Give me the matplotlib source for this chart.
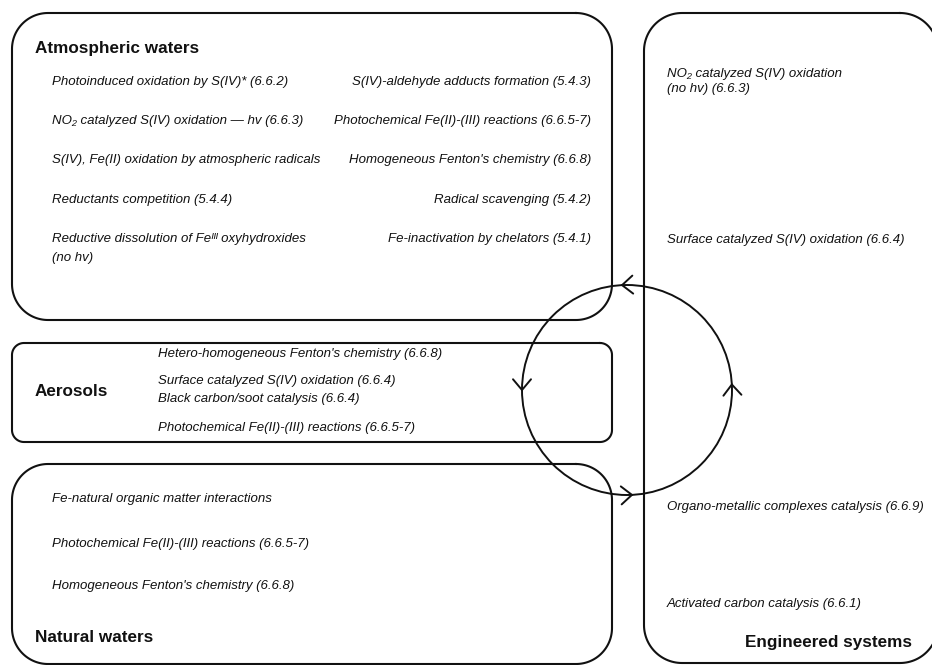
import numpy as np
import matplotlib
matplotlib.use('Agg')
import matplotlib.pyplot as plt
from matplotlib.patches import Circle

plt.rcParams['font.family'] = ['Liberation Sans', 'DejaVu Sans']

# --- diagram content ---
box_titles = ['Atmospheric waters', 'Aerosols', 'Natural waters', 'Engineered systems']

atmos_left = [
    'Photoinduced oxidation by S(IV)* (6.6.2)',
    'NO₂ catalyzed S(IV) oxidation — hv (6.6.3)',
    'S(IV), Fe(II) oxidation by atmospheric radicals',
    'Reductants competition (5.4.4)',
    'Reductive dissolution of Feᴵᴵᴵ oxyhydroxides\n(no hv)',
]
atmos_right = [
    'S(IV)-aldehyde adducts formation (5.4.3)',
    'Photochemical Fe(II)-(III) reactions (6.6.5-7)',
    "Homogeneous Fenton's chemistry (6.6.8)",
    'Radical scavenging (5.4.2)',
    'Fe-inactivation by chelators (5.4.1)',
]
aerosol_items = [
    "Hetero-homogeneous Fenton's chemistry (6.6.8)",
    'Surface catalyzed S(IV) oxidation (6.6.4)',
    'Black carbon/soot catalysis (6.6.4)',
    'Photochemical Fe(II)-(III) reactions (6.6.5-7)',
]
natural_items = [
    'Fe-natural organic matter interactions',
    'Photochemical Fe(II)-(III) reactions (6.6.5-7)',
    "Homogeneous Fenton's chemistry (6.6.8)",
]
engineered_items = [
    'NO₂ catalyzed S(IV) oxidation\n(no hv) (6.6.3)',
    'Surface catalyzed S(IV) oxidation (6.6.4)',
    'Organo-metallic complexes catalysis (6.6.9)',
    'Activated carbon catalysis (6.6.1)',
]

# --- layout (pixels, y downwards) ---
W, H = 932, 665
boxes = [(12, 13, 612, 320, 36), (12, 343, 612, 442, 12),
         (12, 464, 612, 664, 36), (644, 13, 938, 663, 38)]
title_pos = [(35, 48, 'left'), (35, 392, 'left'), (35, 637, 'left'), (912, 642, 'right')]
atmos_rows = [82, 121, 160, 200, 239]
aerosol_rows = [354, 381, 399, 428]
natural_rows = [499, 544, 586]
engineered_rows = [74, 240, 507, 604]
cx, cy, r = 627, 390, 105
arrow_angles = [92.7, 180, 272.7, 3]

item_size = 9.5
title_size = 12.3
ink = '#111111'


def rounded_box(x0, y0, x1, y1, rad):
    # corners walked clockwise on screen, each a quarter arc
    xs, ys = [], []
    corners = [(x1 - rad, y0 + rad, 90, 0), (x1 - rad, y1 - rad, 0, -90),
               (x0 + rad, y1 - rad, -90, -180), (x0 + rad, y0 + rad, 180, 90)]
    for ccx, ccy, a0, a1 in corners:
        t = np.radians(np.linspace(a0, a1, 30))
        xs.extend(ccx + rad * np.cos(t))
        ys.extend(ccy - rad * np.sin(t))
    xs.append(xs[0])
    ys.append(ys[0])
    return xs, ys


fig = plt.figure(figsize=(W / 100, H / 100), dpi=100)
ax = fig.add_axes([0, 0, 1, 1])
ax.set_xlim(0, W)
ax.set_ylim(H, 0)
ax.axis('off')

for x0, y0, x1, y1, rad in boxes:
    xs, ys = rounded_box(x0, y0, x1, y1, rad)
    ax.plot(xs, ys, color=ink, lw=1.5, solid_joinstyle='round')

for title, (x, y, ha) in zip(box_titles, title_pos):
    ax.text(x, y, title, ha=ha, va='center', fontsize=title_size,
            fontweight='bold', color=ink)


def put(items, rows, x, ha, gap):
    for item, y in zip(items, rows):
        for i, line in enumerate(item.split('\n')):
            ax.text(x, y + i * gap, line, ha=ha, va='center', fontsize=item_size,
                    style='italic', color=ink)


put(atmos_left, atmos_rows, 52, 'left', 19)
put(atmos_right, atmos_rows, 591, 'right', 19)
put(aerosol_items, aerosol_rows, 158, 'left', 19)
put(natural_items, natural_rows, 52, 'left', 19)
put(engineered_items, engineered_rows, 667, 'left', 15)

# cycle circle with open chevron arrows (counter-clockwise)
ax.add_patch(Circle((cx, cy), r, fill=False, ec=ink, lw=1.4))
arm, half = 14, np.radians(40)
for a in arrow_angles:
    t = np.radians(a)
    px, py = cx + r * np.cos(t), cy - r * np.sin(t)
    d = np.array([-np.sin(t), -np.cos(t)])
    for s in (-1, 1):
        c, sn = np.cos(s * half), np.sin(s * half)
        back = -np.array([c * d[0] - sn * d[1], sn * d[0] + c * d[1]])
        ax.plot([px, px + arm * back[0]], [py, py + arm * back[1]],
                color=ink, lw=1.4, solid_capstyle='round')

fig.savefig('out.png', dpi=100)
